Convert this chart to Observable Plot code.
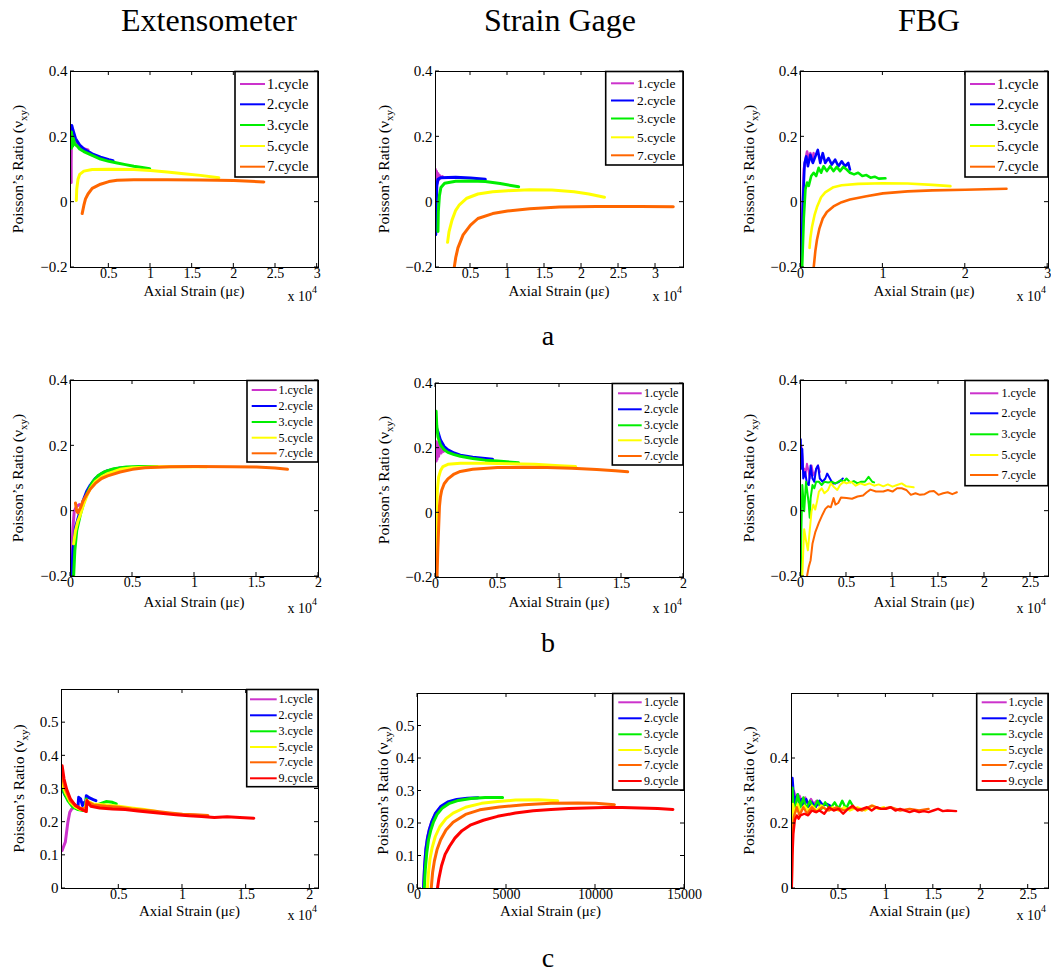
<!DOCTYPE html>
<html><head><meta charset="utf-8">
<script src="https://cdn.jsdelivr.net/npm/d3@7"></script>
<script src="https://cdn.jsdelivr.net/npm/@observablehq/plot@0.6"></script>
<style>
body{margin:0;background:#fff;}
#fig{position:relative;width:1051px;height:973px;overflow:hidden;font-family:'Liberation Serif','Times New Roman',serif;background:#fff;}
#fig svg.panel{position:absolute;}
#fig svg.overlay{position:absolute;left:0;top:0;}
</style></head><body><div id="fig"></div>
<script>
// ---------- labels ----------
const titles = ["Extensometer", "Strain Gage", "FBG"];
const rowLetters = ["a", "b", "c"];
const xLabel = "Axial Strain (με)";
const cycles5 = ["1.cycle", "2.cycle", "3.cycle", "5.cycle", "7.cycle"];
const cycles6 = ["1.cycle", "2.cycle", "3.cycle", "5.cycle", "7.cycle", "9.cycle"];
const colors6 = ["#cc33cc", "#0000ff", "#00ee00", "#ffff00", "#ff6600", "#ff0000"];

// ---------- ticks ----------
const yTicksAB = [-0.2, 0, 0.2, 0.4];
const yTicksC1 = [0, 0.1, 0.2, 0.3, 0.4, 0.5];
const yTicksC3 = [0, 0.2, 0.4];
const xTicksA1 = [0.5, 1, 1.5, 2, 2.5, 3];
const xTicksA3 = [0, 1, 2, 3];
const xTicksB12 = [0, 0.5, 1, 1.5, 2];
const xTicksB3 = [0, 0.5, 1, 1.5, 2, 2.5];
const xTicksC1 = [0.5, 1, 1.5, 2];
const xTicksC2 = [0, 5000, 10000, 15000];
const xTicksC3 = [0.5, 1, 1.5, 2, 2.5];

// ---------- row a : Extensometer (x in 1e4 µε) ----------
const extA1 = [[0.048,0.06],[0.048,0.12],[0.05,0.17],[0.052,0.2],[0.055,0.21],[0.08,0.19],[0.12,0.175],[0.18,0.165],[0.25,0.16]];
const extA2 = [[0.052,0.18],[0.055,0.235],[0.07,0.22],[0.1,0.195],[0.15,0.175],[0.2,0.163],[0.3,0.148],[0.4,0.138],[0.5,0.13],[0.55,0.127]];
const extA3 = [[0.05,0.165],[0.052,0.215],[0.056,0.168],[0.06,0.205],[0.066,0.172],[0.075,0.195],[0.09,0.178],[0.12,0.172],[0.15,0.163],[0.2,0.155],[0.3,0.143],[0.4,0.132],[0.5,0.125],[0.6,0.12],[0.7,0.115],[0.8,0.11],[0.9,0.106],[0.99,0.102]];
const extA5 = [[0.11,0.005],[0.115,0.04],[0.13,0.07],[0.15,0.085],[0.2,0.095],[0.3,0.1],[0.5,0.101],[0.8,0.1],[1.0,0.097],[1.2,0.092],[1.4,0.087],[1.6,0.082],[1.82,0.075]];
const extA7 = [[0.18,-0.035],[0.2,-0.01],[0.22,0.01],[0.25,0.025],[0.3,0.042],[0.4,0.055],[0.5,0.063],[0.6,0.067],[0.8,0.069],[1.2,0.069],[1.6,0.068],[2.0,0.066],[2.36,0.062]];

// ---------- row a : Strain Gage ----------
const sgA1 = [[0.025,0.1],[0.03,0.05],[0.04,0.095],[0.05,0.06],[0.06,0.088],[0.07,0.068],[0.08,0.082],[0.1,0.075],[0.12,0.078]];
const sgA2 = [[0.03,-0.1],[0.035,-0.02],[0.045,0.05],[0.06,0.07],[0.1,0.075],[0.3,0.076],[0.5,0.074],[0.7,0.07]];
const sgA3 = [[0.06,-0.09],[0.065,-0.03],[0.08,0.02],[0.1,0.045],[0.15,0.058],[0.3,0.064],[0.5,0.065],[0.7,0.063],[0.9,0.057],[1.15,0.047]];
const sgA5 = [[0.19,-0.123],[0.21,-0.09],[0.25,-0.055],[0.3,-0.025],[0.35,-0.008],[0.45,0.012],[0.6,0.025],[0.8,0.032],[1.0,0.035],[1.3,0.038],[1.6,0.037],[1.9,0.032],[2.1,0.025],[2.31,0.015]];
const sgA7 = [[0.28,-0.2],[0.3,-0.17],[0.33,-0.14],[0.4,-0.1],[0.5,-0.07],[0.6,-0.05],[0.8,-0.035],[1.0,-0.027],[1.3,-0.02],[1.7,-0.015],[2.2,-0.013],[2.8,-0.013],[3.24,-0.014]];

// ---------- row a : FBG ----------
const fbgA1 = [[0.0,-0.2],[0.02,-0.05],[0.04,0.1],[0.06,0.13],[0.08,0.155],[0.1,0.13],[0.12,0.15],[0.14,0.125],[0.16,0.15]];
const fbgA2 = [[0.01,-0.2],[0.03,0.0],[0.05,0.12],[0.07,0.14],[0.09,0.11],[0.12,0.145],[0.15,0.12],[0.18,0.14],[0.21,0.16],[0.24,0.12],[0.27,0.15],[0.3,0.12],[0.34,0.135],[0.38,0.115],[0.42,0.13],[0.46,0.11],[0.5,0.125],[0.54,0.11],[0.58,0.12],[0.6,0.1]];
const fbgA3 = [[0.02,-0.2],[0.04,-0.05],[0.06,0.04],[0.08,0.06],[0.1,0.05],[0.13,0.08],[0.16,0.09],[0.19,0.08],[0.22,0.105],[0.25,0.09],[0.28,0.11],[0.32,0.095],[0.36,0.11],[0.4,0.095],[0.44,0.108],[0.48,0.095],[0.52,0.108],[0.56,0.1],[0.6,0.09],[0.65,0.085],[0.7,0.09],[0.75,0.08],[0.8,0.083],[0.85,0.075],[0.9,0.078],[0.95,0.072],[1.03,0.073]];
const fbgA5 = [[0.11,-0.14],[0.12,-0.11],[0.14,-0.075],[0.17,-0.04],[0.2,-0.015],[0.25,0.015],[0.3,0.03],[0.4,0.046],[0.5,0.052],[0.7,0.056],[1.0,0.058],[1.3,0.057],[1.6,0.053],[1.82,0.049]];
const fbgA7 = [[0.16,-0.2],[0.18,-0.15],[0.2,-0.115],[0.23,-0.08],[0.27,-0.05],[0.32,-0.03],[0.4,-0.013],[0.5,0.0],[0.6,0.008],[0.8,0.018],[1.0,0.027],[1.3,0.033],[1.6,0.036],[2.0,0.038],[2.5,0.041]];

// ---------- row b : Extensometer ----------
const extB1 = [[0.005,-0.2],[0.01,-0.12],[0.02,-0.05],[0.03,0.0],[0.05,0.015],[0.07,0.02]];
const extB2 = [[0.01,-0.2],[0.02,-0.12],[0.04,-0.05],[0.07,-0.01],[0.1,0.03],[0.13,0.06],[0.16,0.08],[0.2,0.1],[0.25,0.115],[0.3,0.124],[0.4,0.132],[0.46,0.134]];
const extB3 = [[0.025,-0.2],[0.035,-0.12],[0.05,-0.06],[0.08,-0.01],[0.11,0.03],[0.14,0.06],[0.18,0.09],[0.22,0.108],[0.27,0.12],[0.35,0.13],[0.45,0.135],[0.55,0.137],[0.7,0.137]];
const extB5 = [[0.025,-0.1],[0.04,-0.06],[0.06,-0.03],[0.08,-0.01],[0.1,0.015],[0.13,0.045],[0.16,0.07],[0.2,0.09],[0.25,0.105],[0.3,0.115],[0.4,0.128],[0.5,0.133],[0.7,0.136],[0.9,0.137],[1.1,0.136]];
const extB7 = [[0.04,0.025],[0.05,0.0],[0.06,-0.005],[0.08,0.01],[0.1,0.03],[0.13,0.05],[0.16,0.068],[0.2,0.085],[0.25,0.1],[0.3,0.108],[0.4,0.12],[0.5,0.128],[0.6,0.133],[0.8,0.136],[1.0,0.137],[1.3,0.136],[1.5,0.135],[1.65,0.132],[1.75,0.128]];

// ---------- row b : Strain Gage ----------
const sgB1 = [[0.005,0.16],[0.008,0.22],[0.012,0.165],[0.018,0.215],[0.025,0.175],[0.035,0.205],[0.045,0.185],[0.055,0.195],[0.065,0.19]];
const sgB2 = [[0.01,0.26],[0.02,0.25],[0.04,0.225],[0.07,0.205],[0.1,0.195],[0.15,0.185],[0.2,0.178],[0.3,0.172],[0.4,0.168],[0.46,0.166]];
const sgB3 = [[0.005,0.314],[0.01,0.27],[0.02,0.235],[0.04,0.21],[0.07,0.195],[0.1,0.187],[0.15,0.18],[0.2,0.175],[0.3,0.168],[0.4,0.163],[0.5,0.16],[0.67,0.155]];
const sgB5 = [[0.003,-0.2],[0.006,-0.1],[0.01,0.0],[0.015,0.07],[0.025,0.11],[0.04,0.13],[0.06,0.143],[0.1,0.15],[0.2,0.153],[0.4,0.153],[0.6,0.152],[0.8,0.15],[1.0,0.146],[1.13,0.143]];
const sgB7 = [[0.012,-0.2],[0.018,-0.12],[0.025,-0.05],[0.032,0.02],[0.04,0.05],[0.05,0.07],[0.07,0.09],[0.1,0.105],[0.15,0.12],[0.2,0.128],[0.3,0.135],[0.5,0.14],[0.7,0.141],[0.9,0.14],[1.1,0.138],[1.3,0.134],[1.45,0.13],[1.55,0.127]];

// ---------- row b : FBG ----------
const fbgB1 = [[0.01,0.2],[0.02,0.17],[0.03,0.125],[0.04,0.13],[0.05,0.105],[0.07,0.145],[0.09,0.12],[0.1,0.1],[0.12,0.14],[0.14,0.11],[0.16,0.12],[0.19,0.14],[0.21,0.12]];
const fbgB2 = [[0.003,0.22],[0.01,0.13],[0.02,0.19],[0.03,0.1],[0.05,0.12],[0.07,0.085],[0.09,0.08],[0.11,0.14],[0.13,0.1],[0.15,0.09],[0.17,0.13],[0.19,0.14],[0.21,0.1],[0.24,0.09],[0.27,0.1],[0.29,0.115],[0.32,0.1],[0.35,0.085],[0.38,0.085],[0.41,0.088],[0.44,0.095],[0.46,0.1]];
const fbgB3 = [[0.003,-0.2],[0.01,-0.05],[0.02,0.08],[0.03,0.04],[0.04,0.0],[0.06,0.09],[0.08,0.045],[0.09,0.02],[0.1,-0.02],[0.11,0.04],[0.13,0.08],[0.15,0.07],[0.17,0.09],[0.2,0.09],[0.23,0.08],[0.26,0.09],[0.3,0.088],[0.34,0.09],[0.38,0.085],[0.44,0.095],[0.47,0.09],[0.5,0.1],[0.54,0.088],[0.58,0.092],[0.62,0.085],[0.66,0.09],[0.7,0.09],[0.74,0.105],[0.78,0.09],[0.8,0.088]];
const fbgB5 = [[0.02,-0.2],[0.03,-0.12],[0.04,-0.055],[0.06,-0.09],[0.08,-0.12],[0.1,-0.06],[0.12,0.0],[0.14,0.02],[0.16,0.005],[0.18,0.03],[0.2,0.06],[0.23,0.07],[0.26,0.055],[0.3,0.065],[0.33,0.085],[0.36,0.075],[0.4,0.065],[0.43,0.08],[0.47,0.09],[0.5,0.085],[0.55,0.09],[0.6,0.078],[0.65,0.085],[0.7,0.08],[0.75,0.085],[0.8,0.078],[0.85,0.082],[0.9,0.076],[0.95,0.082],[1.0,0.075],[1.05,0.08],[1.1,0.085],[1.15,0.076],[1.23,0.073]];
const fbgB7 = [[0.07,-0.2],[0.09,-0.17],[0.11,-0.15],[0.13,-0.1],[0.16,-0.065],[0.2,-0.035],[0.24,-0.01],[0.27,0.007],[0.3,0.015],[0.33,0.012],[0.36,0.04],[0.38,0.02],[0.41,0.025],[0.44,0.042],[0.5,0.04],[0.56,0.038],[0.62,0.045],[0.68,0.048],[0.72,0.058],[0.76,0.066],[0.82,0.06],[0.9,0.06],[0.95,0.065],[1.0,0.06],[1.05,0.07],[1.1,0.07],[1.15,0.065],[1.2,0.05],[1.25,0.055],[1.3,0.05],[1.35,0.052],[1.4,0.06],[1.45,0.062],[1.5,0.05],[1.55,0.055],[1.6,0.058],[1.65,0.052],[1.7,0.058]];

// ---------- row c : Extensometer ----------
const extC1 = [[0.055,0.115],[0.065,0.125],[0.08,0.14],[0.09,0.17],[0.1,0.2],[0.115,0.23],[0.13,0.24],[0.15,0.245],[0.17,0.25]];
const extC2 = [[0.055,0.3],[0.08,0.28],[0.12,0.26],[0.16,0.25],[0.18,0.25],[0.185,0.275],[0.2,0.27],[0.215,0.25],[0.23,0.26],[0.24,0.255],[0.245,0.28],[0.27,0.273],[0.3,0.268],[0.32,0.265]];
const extC3 = [[0.055,0.31],[0.07,0.29],[0.1,0.265],[0.14,0.245],[0.18,0.238],[0.22,0.235],[0.24,0.235],[0.245,0.27],[0.26,0.255],[0.3,0.25],[0.35,0.255],[0.4,0.262],[0.45,0.26],[0.48,0.255]];
const extC5 = [[0.055,0.32],[0.08,0.29],[0.12,0.26],[0.16,0.245],[0.2,0.238],[0.24,0.24],[0.245,0.265],[0.3,0.255],[0.4,0.252],[0.5,0.248],[0.6,0.243],[0.7,0.238],[0.8,0.232]];
const extC7 = [[0.055,0.34],[0.08,0.3],[0.12,0.265],[0.16,0.25],[0.2,0.242],[0.24,0.24],[0.25,0.262],[0.3,0.252],[0.4,0.248],[0.5,0.245],[0.6,0.24],[0.7,0.236],[0.8,0.232],[0.9,0.228],[1.0,0.224],[1.1,0.222],[1.2,0.22]];
const extC9 = [[0.055,0.37],[0.07,0.33],[0.09,0.3],[0.12,0.27],[0.16,0.25],[0.2,0.24],[0.245,0.232],[0.25,0.265],[0.28,0.248],[0.35,0.243],[0.45,0.24],[0.55,0.238],[0.65,0.234],[0.75,0.23],[0.85,0.226],[0.95,0.222],[1.05,0.219],[1.15,0.217],[1.25,0.214],[1.35,0.216],[1.45,0.214],[1.56,0.212]];

// ---------- row c : Strain Gage (x in µε) ----------
const sgC1 = [[340,0],[400,0.07],[470,0.12],[560,0.155],[660,0.18],[800,0.205],[1000,0.23],[1300,0.25]];
const sgC2 = [[340,0],[400,0.07],[470,0.12],[560,0.155],[660,0.18],[800,0.205],[1000,0.23],[1300,0.252],[1700,0.266],[2200,0.274],[2800,0.278],[3400,0.279]];
const sgC3 = [[380,0],[440,0.06],[520,0.11],[620,0.15],[750,0.18],[900,0.205],[1100,0.228],[1400,0.248],[1800,0.262],[2300,0.271],[3000,0.277],[3800,0.28],[4780,0.28]];
const sgC5 = [[560,0],[620,0.05],[700,0.09],[820,0.125],[1000,0.16],[1250,0.19],[1600,0.215],[2000,0.232],[2700,0.25],[3600,0.262],[4500,0.268],[5500,0.272],[6800,0.273],[7880,0.27]];
const sgC7 = [[770,0],[850,0.05],[950,0.085],[1100,0.12],[1300,0.15],[1600,0.18],[2000,0.204],[2700,0.228],[3500,0.242],[4600,0.251],[6000,0.258],[7500,0.262],[9000,0.263],[10000,0.262],[11060,0.258]];
const sgC9 = [[1120,0],[1200,0.03],[1350,0.07],[1550,0.105],[1800,0.13],[2100,0.155],[2500,0.178],[3000,0.196],[3700,0.21],[4500,0.222],[5500,0.232],[6500,0.239],[7500,0.243],[8500,0.246],[9500,0.248],[10500,0.249],[11500,0.249],[12500,0.248],[13500,0.246],[14350,0.243]];

// ---------- row c : FBG ----------
const fbgC1 = [[0.01,0.28],[0.03,0.3],[0.06,0.27],[0.09,0.285],[0.12,0.265],[0.15,0.28],[0.18,0.26],[0.21,0.275],[0.24,0.26],[0.27,0.27],[0.3,0.255]];
const fbgC2 = [[0.01,0.2],[0.015,0.34],[0.025,0.3],[0.035,0.25],[0.05,0.28],[0.07,0.29],[0.09,0.255],[0.11,0.275],[0.13,0.255],[0.16,0.275],[0.19,0.25],[0.22,0.265],[0.26,0.25],[0.3,0.27],[0.34,0.255],[0.38,0.26],[0.41,0.255]];
const fbgC3 = [[0.005,0.0],[0.01,0.2],[0.015,0.31],[0.025,0.25],[0.04,0.24],[0.07,0.29],[0.1,0.25],[0.13,0.28],[0.16,0.245],[0.2,0.27],[0.24,0.245],[0.28,0.27],[0.32,0.245],[0.36,0.265],[0.41,0.245],[0.46,0.265],[0.5,0.245],[0.54,0.27],[0.58,0.245],[0.62,0.27],[0.66,0.25]];
const fbgC5 = [[0.005,0.1],[0.01,0.22],[0.02,0.26],[0.04,0.23],[0.07,0.26],[0.1,0.235],[0.14,0.255],[0.18,0.24],[0.22,0.255],[0.27,0.24],[0.32,0.255],[0.38,0.24],[0.44,0.25],[0.5,0.24],[0.56,0.25],[0.62,0.24],[0.7,0.25],[0.78,0.24],[0.86,0.255],[0.92,0.245],[0.98,0.25]];
const fbgC7 = [[0.008,0.0],[0.015,0.15],[0.03,0.22],[0.06,0.25],[0.09,0.225],[0.13,0.25],[0.17,0.23],[0.22,0.25],[0.27,0.235],[0.33,0.25],[0.4,0.24],[0.48,0.25],[0.56,0.24],[0.65,0.25],[0.75,0.24],[0.85,0.255],[0.95,0.245],[1.05,0.25],[1.15,0.24],[1.25,0.245],[1.35,0.24],[1.45,0.245]];
const fbgC9 = [[0.008,0.0],[0.015,0.1],[0.025,0.17],[0.04,0.21],[0.06,0.225],[0.08,0.215],[0.1,0.225],[0.14,0.23],[0.18,0.225],[0.22,0.24],[0.26,0.235],[0.3,0.24],[0.35,0.23],[0.4,0.25],[0.45,0.24],[0.5,0.245],[0.55,0.23],[0.6,0.245],[0.65,0.255],[0.7,0.24],[0.75,0.245],[0.8,0.25],[0.85,0.24],[0.9,0.25],[0.95,0.245],[1.0,0.245],[1.05,0.25],[1.1,0.24],[1.15,0.245],[1.2,0.24],[1.25,0.235],[1.3,0.24],[1.35,0.235],[1.4,0.238],[1.45,0.235],[1.5,0.24],[1.55,0.245],[1.6,0.238],[1.65,0.24],[1.74,0.238]];

// ---------- layout (positions / styles only) ----------
const legA = {rows:[84,104.3,125,146,166.7], fs:14.5};
const panels = [
  {box:[70,71,318,267], xd:[0.04,3.016], yd:[-0.2,0.4], xt:xTicksA1, yt:yTicksAB, series:[extA1,extA2,extA3,extA5,extA7], names:cycles5, sw:3,
   leg:{box:[235,71.5,318,177], rows:legA.rows, line:[240,265], tx:267, fs:legA.fs}, ylx:18, xly:296, expo:[317,301]},
  {box:[435,71,683,267], xd:[0.027,3.378], yd:[-0.2,0.4], xt:xTicksA1, yt:yTicksAB, series:[sgA1,sgA2,sgA3,sgA5,sgA7], names:cycles5, sw:3,
   leg:{box:[605.7,71.5,683,165], rows:[83.3,100.5,118.5,137.3,155.3], line:[611,634], tx:637, fs:13.5}, ylx:384, xly:296, expo:[682,301]},
  {box:[800,71,1048,267], xd:[0,3.01], yd:[-0.2,0.4], xt:xTicksA3, yt:yTicksAB, series:[fbgA1,fbgA2,fbgA3,fbgA5,fbgA7], names:cycles5, sw:2.6,
   leg:{box:[965,71.5,1048,177], rows:legA.rows, line:[970,995], tx:997, fs:legA.fs}, ylx:749, xly:296, expo:[1046,301]},
  {box:[70,380,318,576], xd:[0,2], yd:[-0.2,0.4], xt:xTicksB12, yt:yTicksAB, series:[extB1,extB2,extB3,extB5,extB7], names:cycles5, sw:3,
   leg:{box:[247,380.5,318,462], rows:[390,406,422,437.7,453.3], line:[251.7,276.7], tx:278.5, fs:12}, ylx:18, xly:607, expo:[317,613]},
  {box:[435,383,683,577], xd:[0,2], yd:[-0.2,0.4], xt:xTicksB12, yt:yTicksAB, series:[sgB1,sgB2,sgB3,sgB5,sgB7], names:cycles5, sw:3,
   leg:{box:[612.3,383.5,683,465], rows:[393.3,409.3,425.3,440.3,456], line:[618,641.7], tx:644, fs:12}, ylx:384, xly:607, expo:[682,613]},
  {box:[800,380,1048,576], xd:[0,2.696], yd:[-0.2,0.4], xt:xTicksB3, yt:yTicksAB, series:[fbgB1,fbgB2,fbgB3,fbgB5,fbgB7], names:cycles5, sw:2,
   leg:{box:[965,380.5,1048,485.7], rows:[393.3,413.3,434.3,455,475], line:[970,998.3], tx:1001.5, fs:12}, ylx:749, xly:607, expo:[1046,613]},
  {box:[61,689,318,888], xd:[0.05,2.068], yd:[0,0.6], xt:xTicksC1, yt:yTicksC1, series:[extC1,extC2,extC3,extC5,extC7,extC9], names:cycles6, sw:3,
   leg:{box:[246.7,689.5,318,786.7], rows:[699.3,715.3,731.3,747,762.3,778.3], line:[250,276.7], tx:278.5, fs:12}, ylx:19, xly:916, expo:[317,920]},
  {box:[417,693,684,888], xd:[0,15000], yd:[0,0.6], xt:xTicksC2, yt:yTicksC1, series:[sgC1,sgC2,sgC3,sgC5,sgC7,sgC9], names:cycles6, sw:3,
   leg:{box:[612.7,693.5,684,790], rows:[702.3,718.3,734.3,750,765,781], line:[618.3,641.7], tx:644, fs:12}, ylx:383, xly:916, expo:null},
  {box:[791,693,1048,888], xd:[0.005,2.714], yd:[0,0.6], xt:xTicksC3, yt:yTicksC3, series:[fbgC1,fbgC2,fbgC3,fbgC5,fbgC7,fbgC9], names:cycles6, sw:2.4,
   leg:{box:[976.7,693.5,1048,790], rows:[702.3,718.3,734.3,750,765,781], line:[981.7,1006.7], tx:1008.5, fs:12}, ylx:749, xly:916, expo:[1046,920]}
];

const FONT = "'Liberation Serif','Times New Roman',serif";
const fmt = d => (d < 0 ? "\u2212" : "") + Math.abs(d);
const fig = document.getElementById("fig");

function drawPanel(cfg) {
  const [L, T, R, B] = cfg.box;
  const ml = 64, mr = 6, mt = 6, mb = 54;
  const W = R - L, H = B - T;
  const marks = cfg.series.map((s, i) => Plot.line(s, {x: d => d[0], y: d => d[1], stroke: colors6[i], strokeWidth: cfg.sw, clip: true, strokeLinejoin: "round"}));
  marks.push(Plot.frame({stroke: "black", strokeWidth: 1}));
  marks.push(Plot.axisX(cfg.xt, {tickSize: 0, tickPadding: 1, tickFormat: fmt, label: null, fontSize: 14}));
  marks.push(Plot.axisY(cfg.yt, {tickSize: 0, tickPadding: 3, tickFormat: fmt, label: null, fontSize: 15}));
  const svgEl = Plot.plot({
    width: W + ml + mr, height: H + mt + mb,
    marginLeft: ml, marginRight: mr, marginTop: mt, marginBottom: mb,
    style: {fontFamily: FONT, fontSize: "15px", background: "transparent", color: "black", overflow: "visible"},
    x: {domain: cfg.xd}, y: {domain: cfg.yd},
    marks
  });
  svgEl.classList.add("panel");
  const ox = L - ml, oy = T - mt;
  svgEl.style.left = ox + "px";
  svgEl.style.top = oy + "px";
  const sx = svgEl.scale("x"), sy = svgEl.scale("y");
  const g = d3.select(svgEl).append("g").attr("stroke", "black").attr("stroke-width", 1);
  const l = ml, r = ml + W, t = mt, b = mt + H, tk = 4;
  cfg.xt.forEach(v => {
    const px = sx.apply(v);
    g.append("line").attr("x1", px).attr("x2", px).attr("y1", b).attr("y2", b - tk);
    g.append("line").attr("x1", px).attr("x2", px).attr("y1", t).attr("y2", t + tk);
  });
  cfg.yt.forEach(v => {
    const py = sy.apply(v);
    g.append("line").attr("x1", l).attr("x2", l + tk).attr("y1", py).attr("y2", py);
    g.append("line").attr("x1", r).attr("x2", r - tk).attr("y1", py).attr("y2", py);
  });
  // legend
  const lg = cfg.leg;
  const lgG = d3.select(svgEl).append("g").attr("text-anchor", "start");
  lgG.append("rect").attr("x", lg.box[0] - ox).attr("y", lg.box[1] - oy)
    .attr("width", lg.box[2] - lg.box[0]).attr("height", lg.box[3] - lg.box[1])
    .attr("fill", "white").attr("stroke", "black").attr("stroke-width", 1.6);
  cfg.names.forEach((name, i) => {
    const yy = lg.rows[i] - oy;
    lgG.append("line").attr("x1", lg.line[0] - ox).attr("x2", lg.line[1] - ox).attr("y1", yy).attr("y2", yy)
      .attr("stroke", colors6[i]).attr("stroke-width", 2);
    lgG.append("text").attr("x", lg.tx - ox).attr("y", yy).attr("dy", "0.33em").attr("text-anchor", "start")
      .attr("font-size", lg.fs).attr("font-family", FONT).attr("fill", "black").text(name);
  });
  // y label
  const yl = d3.select(svgEl).append("text")
    .attr("transform", `translate(${cfg.ylx - ox},${(T + B) / 2 - oy}) rotate(-90)`)
    .attr("text-anchor", "middle").attr("dy", "0.35em")
    .attr("font-size", 15.5).attr("font-family", FONT).attr("fill", "black");
  yl.append("tspan").text("Poisson\u2019s Ratio (\u03BD");
  yl.append("tspan").attr("dy", 4).attr("font-size", 11).text("xy");
  yl.append("tspan").attr("dy", -4).text(")");
  // x label
  d3.select(svgEl).append("text").attr("x", (L + R) / 2 - ox).attr("y", cfg.xly - oy)
    .attr("text-anchor", "middle").attr("font-size", 15).attr("font-family", FONT).attr("fill", "black").text(xLabel);
  if (cfg.expo) {
    const e = d3.select(svgEl).append("text").attr("x", cfg.expo[0] - ox).attr("y", cfg.expo[1] - oy)
      .attr("text-anchor", "end").attr("font-size", 14).attr("font-family", FONT).attr("fill", "black");
    e.append("tspan").text("x 10");
    e.append("tspan").attr("dy", -8).attr("font-size", 10).text("4");
  }
  fig.appendChild(svgEl);
}

panels.forEach(drawPanel);

// titles & row letters
const ov = d3.select(fig).append("svg").attr("class", "overlay").attr("width", 1051).attr("height", 973)
  .style("pointer-events", "none");
const titleX = [209, 560, 929];
titles.forEach((tt, i) => ov.append("text").attr("x", titleX[i]).attr("y", 31).attr("text-anchor", "middle")
  .attr("font-family", FONT).attr("font-size", 32).attr("fill", "black").text(tt));
const letterY = [345, 652, 967];
rowLetters.forEach((tt, i) => ov.append("text").attr("x", 548).attr("y", letterY[i]).attr("text-anchor", "middle")
  .attr("font-family", FONT).attr("font-size", 28).attr("fill", "black").text(tt));
</script></body></html>
